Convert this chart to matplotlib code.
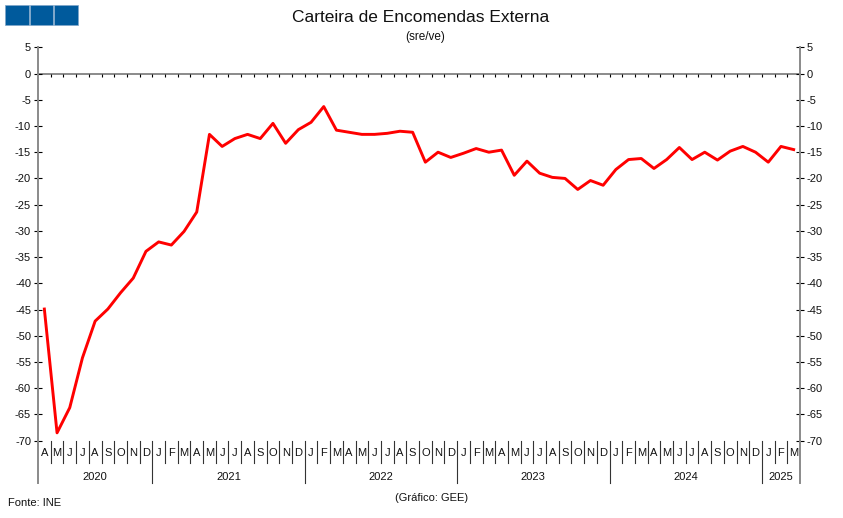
import matplotlib
matplotlib.use("Agg")
import matplotlib.pyplot as plt
from matplotlib.patches import Rectangle
from matplotlib.lines import Line2D
import matplotlib.transforms as mtransforms

plt.rcParams['font.family'] = ['Liberation Sans', 'DejaVu Sans']

month_labels = ["A", "M", "J", "J", "A", "S", "O", "N", "D",
                "J", "F", "M", "A", "M", "J", "J", "A", "S", "O", "N", "D",
                "J", "F", "M", "A", "M", "J", "J", "A", "S", "O", "N", "D",
                "J", "F", "M", "A", "M", "J", "J", "A", "S", "O", "N", "D",
                "J", "F", "M", "A", "M", "J", "J", "A", "S", "O", "N", "D",
                "J", "F", "M"]
years = ["2020", "2021", "2022", "2023", "2024", "2025"]
year_start = [0, 9, 21, 33, 45, 57]
year_end = [9, 21, 33, 45, 57, 60]

values = [-44.9, -68.5, -63.7, -54.2, -47.2, -44.9, -41.8, -39.0, -33.9,
          -32.1, -32.7, -30.1, -26.4, -11.6, -13.9, -12.4, -11.6, -12.4, -9.5, -13.3, -10.7,
          -9.3, -6.3, -10.8, -11.2, -11.6, -11.6, -11.4, -11.0, -11.2, -16.9, -15.0, -16.0,
          -15.2, -14.3, -15.0, -14.6, -19.4, -16.7, -19.0, -19.8, -20.0, -22.1, -20.4, -21.3,
          -18.3, -16.4, -16.2, -18.1, -16.4, -14.1, -16.4, -15.0, -16.5, -14.8, -13.9, -15.0,
          -16.9, -13.9, -14.5]
yticks = list(range(-70, 6, 5))

W, H = 843, 518
fig = plt.figure(figsize=(W / 100, H / 100), dpi=100)
fig.patch.set_facecolor("white")

left_px, right_px = 38, 800
top_px, bot_px = 47.3, 440.7
ax = fig.add_axes([left_px / W, 1 - bot_px / H, (right_px - left_px) / W, (bot_px - top_px) / H])
n = len(values)
x = list(range(n))
ax.set_xlim(-0.5, n - 0.5)
ax.set_ylim(-70, 5)
for s in ax.spines.values():
    s.set_visible(False)

gray = "#8a8a8a"
txt = "#111111"
fs = 8
# zero line
ax.axhline(0, color=gray, lw=1.4, zorder=1)
ax.vlines([k - 0.5 for k in range(1, n)], -0.75, 0, color="black", lw=0.8, zorder=1)

ax.plot(x, values, color="#ff0000", lw=2.1, zorder=3)

# y ticks both sides
ax.set_yticks(yticks)
ax.set_yticklabels([str(v) for v in yticks])
ax.tick_params(axis="y", which="both", direction="inout", length=6, width=0.8, color="black",
               labelsize=fs, labelcolor=txt, left=True, right=True, labelleft=True,
               labelright=True, pad=2)
ax.set_xticks([])

# spines extended below
axh = bot_px - top_px
ext = -(483 - bot_px) / axh
for xa in (0, 1):
    ax.add_line(Line2D([xa, xa], [ext, 1], transform=ax.transAxes, color=gray, lw=1.4,
                       clip_on=False, zorder=2))

trans = mtransforms.blended_transform_factory(ax.transData, ax.transAxes)
m_top = -0.3 / axh
m_bot = -(463 - bot_px) / axh
for k in range(1, n):
    y_end = ext if k in year_start else m_bot
    ax.add_line(Line2D([k - 0.5, k - 0.5], [m_top, y_end], transform=trans, color="#333333",
                       lw=0.8, clip_on=False))

m_y = -(453 - bot_px) / axh
for i, lab in enumerate(month_labels):
    ax.text(i, m_y, lab, transform=trans, ha="center", va="center", fontsize=fs, color=txt)
y_y = -(477 - bot_px) / axh
for yr, s, e in zip(years, year_start, year_end):
    ax.text((s + e - 1) / 2, y_y, yr, transform=trans, ha="center", va="center", fontsize=fs,
            color=txt)

# title
fig.text(421 / W, 1 - 18 / H, "Carteira de Encomendas Externa", ha="center", va="center",
         fontsize=12.5, color=txt)
fig.text(425 / W, 1 - 37 / H, "(sre/ve)", ha="center", va="center", fontsize=8.5, color=txt)
fig.text(8 / W, 1 - 503 / H, "Fonte: INE", ha="left", va="center", fontsize=fs, color=txt)
fig.text(432 / W, 1 - 498 / H, "(Gráfico: GEE)", ha="center", va="center", fontsize=fs,
         color=txt)

# blue squares
for x0 in (5, 29.5, 54):
    fig.patches.append(Rectangle((x0 / W, 1 - 25 / H), 23.5 / W, 20 / H, transform=fig.transFigure,
                                 facecolor="#005a9c", edgecolor="#7fa6c9", lw=0.5))

fig.savefig("out.png", dpi=100)
